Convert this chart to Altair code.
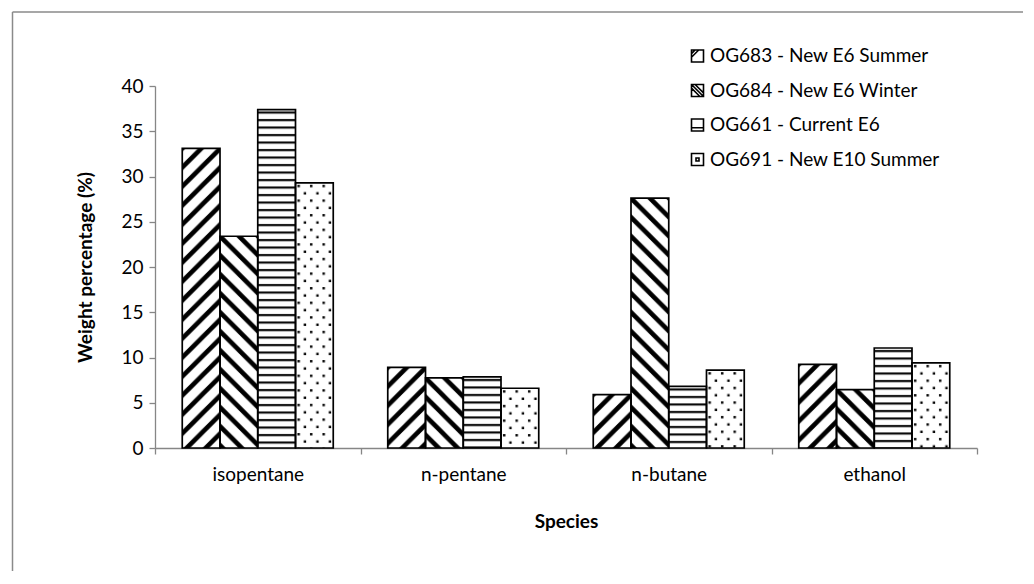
import altair as alt
import pandas as pd
from urllib.parse import quote

species = ["isopentane", "n-pentane", "n-butane", "ethanol"]
series = ["OG683 - New E6 Summer", "OG684 - New E6 Winter", "OG661 - Current E6", "OG691 - New E10 Summer"]
og683 = [33.1, 8.9, 5.9, 9.25]
og684 = [23.4, 7.75, 27.6, 6.45]
og661 = [37.4, 7.85, 6.8, 11.05]
og691 = [29.3, 6.6, 8.6, 9.4]
values = [og683, og684, og661, og691]

FONT = "Lato"
FS = 19


def svg_uri(pattern_body, w, h):
    svg = (
        '<svg xmlns="http://www.w3.org/2000/svg" width="100%" height="100%">'
        '<defs><pattern id="p" x="0" y="0" width="{w}" height="{h}" patternUnits="userSpaceOnUse">'
        '<rect width="{w}" height="{h}" fill="white"/>{body}</pattern></defs>'
        '<rect width="100%" height="100%" fill="url(#p)"/></svg>'
    ).format(w=w, h=h, body=pattern_body)
    return "data:image/svg+xml," + quote(svg, safe="")


P = 19
up = svg_uri(
    '<path d="M0,{p} L{p},0 M-{q},{q} L{q},-{q} M{r},{s} L{s},{r}" stroke="black" stroke-width="4.6"/>'.format(
        p=P, q=P / 4, r=3 * P / 4, s=5 * P / 4),
    P, P)
down = svg_uri(
    '<path d="M0,0 L{p},{p} M{r},-{q} L{s},{q} M-{q},{r} L{q},{s}" stroke="black" stroke-width="4.6"/>'.format(
        p=P, q=P / 4, r=3 * P / 4, s=5 * P / 4),
    P, P)
horiz = svg_uri('<rect x="0" y="2" width="10" height="2.1" fill="black"/>', 10, 7.5)
dots = svg_uri(
    '<rect x="2" y="2" width="2.4" height="2.4" fill="black"/>'
    '<rect x="8.25" y="9.3" width="2.4" height="2.4" fill="black"/>',
    12.5, 14.6)
pattern_urls = dict(zip(series, [up, down, horiz, dots]))

rows = []
for s, vals in zip(series, values):
    for sp, v in zip(species, vals):
        rows.append({"species": sp, "series": s, "value": v, "url": pattern_urls[s]})
df = pd.DataFrame(rows)

x_enc = alt.X(
    "species:N", sort=species,
    scale=alt.Scale(paddingInner=0, paddingOuter=0),
    axis=alt.Axis(
        title="Species", tickBand="extent", labelAngle=0, tickSize=6, labelPadding=11,
        titleY=73, titleBaseline="middle",
    ),
)
xo_enc = alt.XOffset("series:N", sort=series, scale=alt.Scale(paddingInner=0, paddingOuter=0.722))
y_enc = alt.Y(
    "value:Q",
    scale=alt.Scale(domain=[0, 40], nice=False),
    axis=alt.Axis(
        title="Weight percentage (%)", values=[0, 5, 10, 15, 20, 25, 30, 35, 40],
        grid=False, tickSize=6, labelPadding=6, titleX=-70, titleBaseline="middle",
    ),
)

base = alt.Chart(df)

images = base.mark_image(aspect=False).encode(
    x=x_enc, xOffset=xo_enc, y=y_enc, y2=alt.datum(0), url="url:N"
)

outlines = base.mark_bar(fill="transparent", stroke="black", strokeWidth=1.7).encode(
    x=x_enc, xOffset=xo_enc, y=y_enc
)

legend_paths = [
    "M-1,-1H1V1H-1Z M-1,0.2L0.2,-1 M-1,-0.4L-0.4,-1",
    "M-1,-1H1V1H-1Z M-1,-1L1,1 M-1,-0.4L0.4,1 M-0.4,-1L1,0.4",
    "M-1,-1H1V1H-1Z M-1,0.45H1",
    "M-1,-1H1V1H-1Z M-0.25,-0.25H0.25V0.25H-0.25Z",
]
legend_layer = base.transform_filter("false").mark_point(
    filled=False, color="black", strokeWidth=1.6, opacity=1
).encode(
    shape=alt.Shape(
        "series:N",
        scale=alt.Scale(domain=series, range=legend_paths),
        legend=alt.Legend(
            title=None, orient="none", legendX=533, legendY=-39.5,
            labelFont=FONT, labelFontSize=FS, labelColor="black", labelLimit=400,
            symbolSize=144, symbolStrokeWidth=1.6, symbolStrokeColor="black",
            symbolOpacity=1, rowPadding=14.5, labelOffset=3,
        ),
    )
)

left_border = alt.Chart(pd.DataFrame({"a": [0]})).mark_rule(color="#8a8a8a", strokeWidth=1.5).encode(
    x=alt.value(-142.5), y=alt.value(-74), y2=alt.value(485)
)
top_border = alt.Chart(pd.DataFrame({"a": [0]})).mark_rule(color="#8a8a8a", strokeWidth=1.5).encode(
    x=alt.value(-142.5), x2=alt.value(868), y=alt.value(-74)
)

chart = alt.layer(images, outlines, legend_layer, left_border, top_border).properties(
    width=822, height=362,
    padding={"left": 3, "top": 3, "right": 0, "bottom": 0},
).configure_view(stroke=None).configure_axis(
    labelFont=FONT, labelFontSize=FS, labelColor="black",
    titleFont=FONT, titleFontSize=FS, titleFontWeight="bold", titleColor="black",
    domainColor="#868686", tickColor="#868686", domainWidth=1.3, tickWidth=1.3,
)

chart.save("out.html", embed_options={"renderer": "svg", "actions": False})
